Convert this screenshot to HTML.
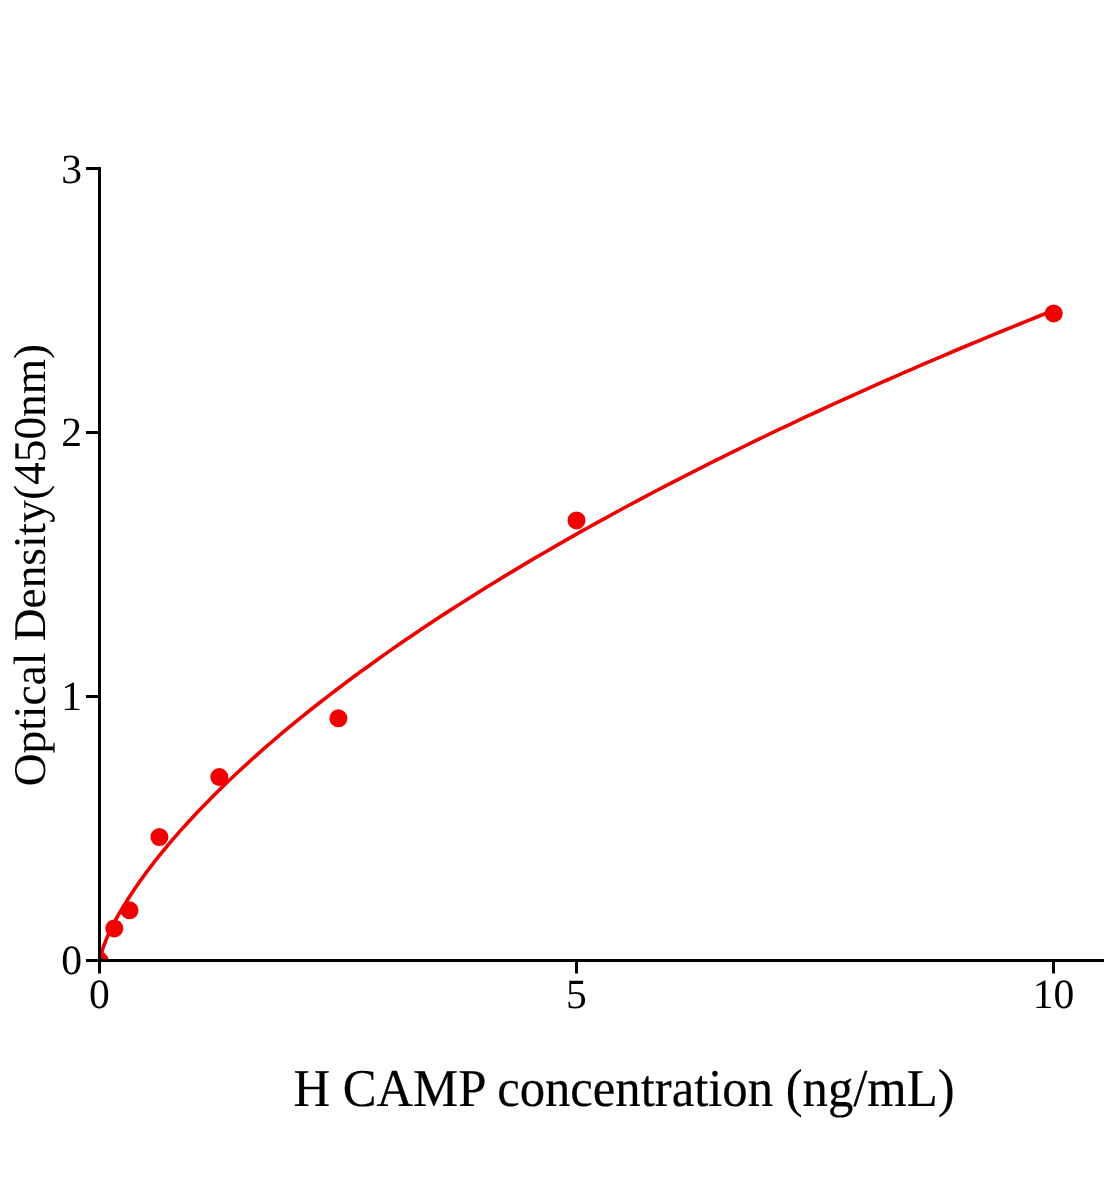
<!DOCTYPE html>
<html><head><meta charset="utf-8"><style>
html,body{margin:0;padding:0;background:#fff;width:1104px;height:1200px;overflow:hidden}
svg{display:block;will-change:transform}
text{font-family:"Liberation Serif",serif;fill:#000;text-rendering:geometricPrecision}
</style></head><body>
<svg width="1104" height="1200" viewBox="0 0 1104 1200">
<defs><clipPath id="plot"><rect x="101" y="0" width="1003" height="959"/></clipPath></defs>
<path clip-path="url(#plot)" d="M99.50,962.68 L100.47,956.80 L101.45,953.07 L102.42,949.87 L103.39,946.98 L104.37,944.30 L105.34,941.77 L106.31,939.37 L107.29,937.07 L108.26,934.85 L109.23,932.71 L110.21,930.63 L111.18,928.61 L112.16,926.64 L113.13,924.72 L114.10,922.83 L115.08,920.99 L116.05,919.18 L117.02,917.40 L118.00,915.65 L118.97,913.94 L119.94,912.24 L120.92,910.58 L121.89,908.94 L122.86,907.31 L123.84,905.72 L124.81,904.14 L125.78,902.58 L126.76,901.03 L127.73,899.51 L128.70,897.98 L129.68,896.47 L130.65,894.96 L131.62,893.47 L132.60,892.00 L133.57,890.54 L134.54,889.09 L135.52,887.65 L136.49,886.23 L137.47,884.82 L138.44,883.42 L139.41,882.03 L140.39,880.65 L141.36,879.28 L142.33,877.93 L143.31,876.58 L144.28,875.24 L145.25,873.91 L146.23,872.59 L147.20,871.28 L155.51,860.42 L163.83,850.08 L172.14,840.18 L180.46,830.65 L188.77,821.45 L197.09,812.54 L205.40,803.89 L213.72,795.48 L222.03,787.28 L230.35,779.27 L238.66,771.45 L246.98,763.80 L255.29,756.31 L263.61,748.96 L271.92,741.75 L280.23,734.67 L288.55,727.71 L296.86,720.87 L305.18,714.14 L313.49,707.51 L321.81,700.98 L330.12,694.55 L338.44,688.21 L346.75,681.95 L355.07,675.78 L363.38,669.69 L371.70,663.68 L380.01,657.74 L388.33,651.88 L396.64,646.08 L404.96,640.35 L413.27,634.68 L421.58,629.08 L429.90,623.54 L438.21,618.05 L446.53,612.63 L454.84,607.26 L463.16,601.94 L471.47,596.67 L479.79,591.46 L488.10,586.29 L496.42,581.18 L504.73,576.11 L513.05,571.09 L521.36,566.11 L529.68,561.17 L537.99,556.28 L546.30,551.43 L554.62,546.62 L562.93,541.85 L571.25,537.12 L579.56,532.42 L587.88,527.77 L596.19,523.15 L604.51,518.56 L612.82,514.02 L621.14,509.50 L629.45,505.02 L637.77,500.57 L646.08,496.16 L654.40,491.77 L662.71,487.42 L671.02,483.10 L679.34,478.81 L687.65,474.55 L695.97,470.31 L704.28,466.11 L712.60,461.93 L720.91,457.78 L729.23,453.66 L737.54,449.57 L745.86,445.50 L754.17,441.46 L762.49,437.44 L770.80,433.45 L779.12,429.48 L787.43,425.54 L795.74,421.62 L804.06,417.72 L812.37,413.85 L820.69,410.00 L829.00,406.17 L837.32,402.36 L845.63,398.58 L853.95,394.82 L862.26,391.08 L870.58,387.36 L878.89,383.66 L887.21,379.98 L895.52,376.33 L903.84,372.69 L912.15,369.07 L920.47,365.47 L928.78,361.89 L937.09,358.33 L945.41,354.79 L953.72,351.27 L962.04,347.76 L970.35,344.27 L978.67,340.80 L986.98,337.35 L995.30,333.92 L1003.61,330.50 L1011.93,327.10 L1020.24,323.72 L1028.56,320.35 L1036.87,317.00 L1045.19,313.66 L1053.50,310.35" fill="none" stroke="#ee0000" stroke-width="3.6" stroke-linejoin="round"/>
<g clip-path="url(#plot)" fill="#f20000">
<circle cx="99.5" cy="960.5" r="9"/>
</g>
<g fill="#f20000">
<circle cx="114.3" cy="928.4" r="9"/>
<circle cx="129.5" cy="910.3" r="9"/>
<circle cx="159.4" cy="837.1" r="9"/>
<circle cx="219.3" cy="777" r="9"/>
<circle cx="338.4" cy="718.3" r="9"/>
<circle cx="576.5" cy="520.4" r="9"/>
<circle cx="1053.7" cy="313.4" r="9"/>
</g>
<g fill="#000">
<rect x="98" y="167" width="3" height="806.5"/>
<rect x="86" y="959" width="1018" height="3"/>
<rect x="86" y="167" width="15" height="3"/>
<rect x="86" y="431" width="15" height="3"/>
<rect x="86" y="695" width="15" height="3"/>
<rect x="575" y="959" width="3" height="14.5"/>
<rect x="1052" y="959" width="3" height="14.5"/>
</g>
<g font-size="41.6">
<text x="82" y="182.5" text-anchor="end">3</text>
<text x="82" y="445.6" text-anchor="end">2</text>
<text x="82" y="710" text-anchor="end">1</text>
<text x="82" y="974" text-anchor="end">0</text>
<text x="99.5" y="1008" text-anchor="middle">0</text>
<text x="576.5" y="1008" text-anchor="middle">5</text>
<text x="1053.5" y="1008" text-anchor="middle">10</text>
</g>
<text transform="translate(624,1105.8) scale(1,1.05)" font-size="50.7" text-anchor="middle" stroke="#000" stroke-width="0.2">H CAMP concentration (ng/mL)</text>
<text transform="translate(45.1,565) rotate(-90)" font-size="45.4" text-anchor="middle">Optical Density(450nm)</text>
</svg>
</body></html>
